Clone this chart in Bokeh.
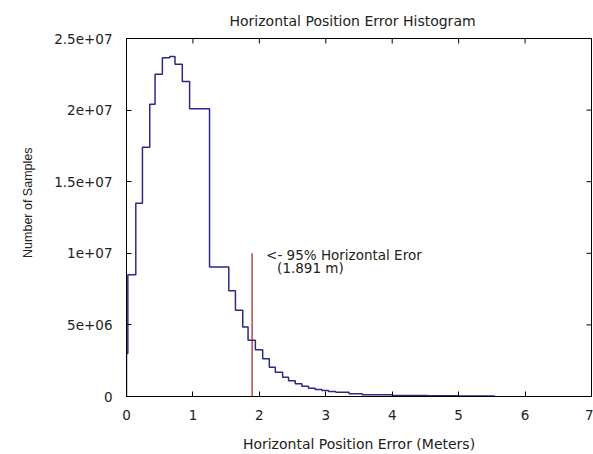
import math
from bokeh.plotting import figure
from bokeh.models import Range1d, FixedTicker, Label, Title
from bokeh.embed import file_html
from bokeh.resources import INLINE

# ---- data ----
bin_edges = [0.0, 0.02, 0.14, 0.24, 0.35, 0.43, 0.54, 0.65, 0.73, 0.84, 0.95,
             1.25, 1.54, 1.64, 1.75, 1.83, 1.94, 2.05, 2.15, 2.24, 2.35, 2.44,
             2.54, 2.64, 2.74, 2.84, 2.94, 3.04, 3.15, 3.35, 3.55, 4.0, 4.53,
             4.98, 5.54]
bin_counts = [3.0e6, 8.5e6, 13.5e6, 17.4e6, 20.4e6, 22.5e6, 23.65e6, 23.75e6,
              23.2e6, 22.0e6, 20.1e6, 9.05e6, 7.38e6, 6.02e6, 4.86e6, 3.92e6,
              3.27e6, 2.64e6, 2.05e6, 1.7e6, 1.35e6, 1.1e6, 0.89e6, 0.72e6,
              0.58e6, 0.49e6, 0.42e6, 0.35e6, 0.3e6, 0.19e6, 0.12e6, 0.07e6,
              0.05e6, 0.03e6]
p95_value = 1.891
p95_line_top = 1.0e7
x_ticks = [0, 1, 2, 3, 4, 5, 6, 7]
y_ticks = [0, 5e6, 1e7, 1.5e7, 2e7, 2.5e7]
y_tick_labels = ["0", "5e+06", "1e+07", "1.5e+07", "2e+07", "2.5e+07"]
x_min, x_max = 0, 7
y_min, y_max = 0, 2.5e7

FONT = "DejaVu Sans"
TXT = "#222222"

p = figure(width=593, height=454, output_backend="svg", toolbar_location=None,
           x_range=Range1d(x_min, x_max), y_range=Range1d(y_min, y_max),
           min_border_left=126, min_border_right=2, min_border_top=38,
           min_border_bottom=58)
p.background_fill_color = "white"
p.border_fill_color = "white"
p.grid.visible = False
p.outline_line_color = "black"
p.outline_line_width = 1

p.title.text = "Horizontal Position Error Histogram"
p.title.text_font = FONT
p.title.text_font_size = "14px"
p.title.text_font_style = "normal"
p.title.align = "left"
p.title.offset = 103
p.title.standoff = 20
p.title.text_color = TXT

# y-axis title placed as a left-side title (sits above the frame centre)
p.add_layout(Title(text="Number of Samples", align="right", offset=109,
                   standoff=33, text_font="Liberation Sans",
                   text_font_size="12.5px", text_font_style="normal",
                   text_color=TXT), "left")

# histogram outline as steps
xs = [bin_edges[0]] + bin_edges
ys = [0] + bin_counts + [0]
p.step(xs, ys, mode="after", line_color="#2a2a85", line_width=1.5)

# 95% line
p.segment(x0=[p95_value], y0=[0], x1=[p95_value], y1=[p95_line_top],
          line_color="#a01c1c", line_width=1.2)

p.add_layout(Label(x=p95_value, y=p95_line_top, x_offset=14, y_offset=6,
                   text="<- 95% Horizontal Eror", text_font=FONT,
                   text_font_size="13.5px", text_baseline="top",
                   text_color=TXT))
p.add_layout(Label(x=p95_value, y=p95_line_top, x_offset=25, y_offset=-7,
                   text="(1.891 m)", text_font=FONT,
                   text_font_size="13.5px", text_baseline="top",
                   text_color=TXT))

# mirrored inward ticks on top and right edges (half clipped by the frame)
p.scatter(x_ticks, [y_max] * len(x_ticks), marker="dash", size=10,
          angle=math.pi / 2, line_color="black", line_width=1)
p.scatter([x_max] * len(y_ticks), y_ticks, marker="dash", size=10,
          line_color="black", line_width=1)

for ax in (p.xaxis[0], p.yaxis[0]):
    ax.major_tick_in = 5
    ax.major_tick_out = 0
    ax.minor_tick_line_color = None
    ax.axis_line_color = "black"
    ax.major_tick_line_color = "black"
    ax.major_label_text_font = FONT
    ax.major_label_text_font_size = "13.5px"
    ax.major_label_text_color = TXT
    ax.axis_label_text_font = FONT
    ax.axis_label_text_font_size = "14px"
    ax.axis_label_text_font_style = "normal"
    ax.axis_label_text_color = TXT

p.xaxis.ticker = FixedTicker(ticks=x_ticks)
p.yaxis.ticker = FixedTicker(ticks=y_ticks)
p.yaxis.major_label_overrides = {t: s for t, s in zip(y_ticks, y_tick_labels)}
p.xaxis.axis_label = "Horizontal Position Error (Meters)"
p.xaxis.major_label_standoff = 13
p.yaxis.major_label_standoff = 14
p.xaxis.axis_label_standoff = 13

open("out.html", "w").write(file_html(p, INLINE))
